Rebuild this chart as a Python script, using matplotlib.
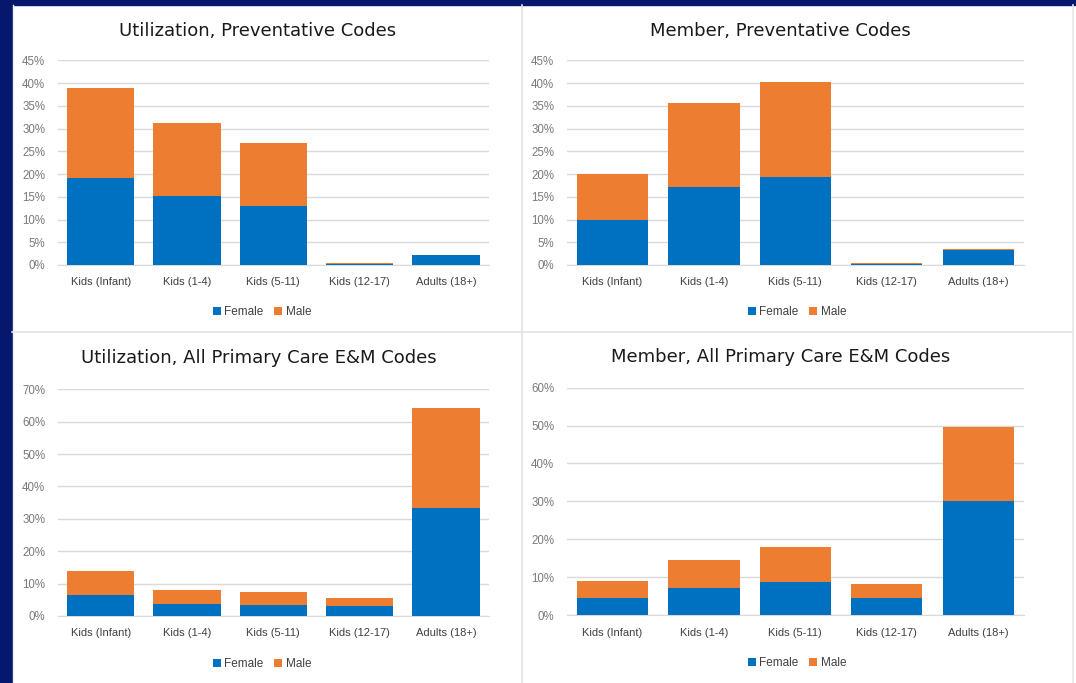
import matplotlib.pyplot as plt
from matplotlib.lines import Line2D
from matplotlib.patches import Rectangle
from matplotlib.ticker import MultipleLocator, FuncFormatter

categories = ["Kids (Infant)", "Kids (1-4)", "Kids (5-11)", "Kids (12-17)", "Adults (18+)"]

# Utilization, Preventative Codes (% values)
util_prev_female = [19.1, 15.1, 12.9, 0.3, 2.1]
util_prev_male = [19.8, 16.1, 14.0, 0.2, 0.1]

# Member, Preventative Codes
mem_prev_female = [9.9, 17.2, 19.4, 0.3, 3.3]
mem_prev_male = [10.0, 18.5, 20.9, 0.2, 0.2]

# Utilization, All Primary Care E&M Codes
util_em_female = [6.5, 3.7, 3.4, 3.1, 33.5]
util_em_male = [7.4, 4.2, 4.1, 2.4, 30.6]

# Member, All Primary Care E&M Codes
mem_em_female = [4.4, 7.1, 8.6, 4.4, 30.1]
mem_em_male = [4.5, 7.5, 9.3, 3.8, 19.6]

BLUE = "#0070C0"
ORANGE = "#ED7D31"
NAVY = "#06186e"
GRID = "#d9d9d9"

W, H = 1076, 683


def rect(x0, y0, x1, y1):
    return [x0 / W, 1 - y1 / H, (x1 - x0) / W, (y1 - y0) / H]


def draw_panel(fig, box, title, title_xy, legend_xy, female, male, ymax, step):
    ax = fig.add_axes(rect(*box))
    x = range(len(categories))
    ax.bar(x, female, width=0.78, color=BLUE, label="Female", zorder=3)
    ax.bar(x, male, width=0.78, bottom=female, color=ORANGE, label="Male", zorder=3)
    ax.set_xlim(-0.5, len(categories) - 0.5)
    ax.set_ylim(0, ymax)
    ax.yaxis.set_major_locator(MultipleLocator(step))
    ax.yaxis.set_major_formatter(FuncFormatter(lambda v, p: "{:.0f}%".format(v)))
    ax.set_xticks(list(x))
    ax.set_xticklabels(categories, fontsize=8, color="#404040", family="Liberation Sans")
    ax.tick_params(axis="y", labelsize=8.3, labelcolor="#7a7a7a", length=0, pad=9)
    ax.tick_params(axis="x", length=0, pad=9)
    for lab in ax.get_yticklabels():
        lab.set_family("Liberation Sans")
    ax.grid(axis="y", color=GRID, linewidth=1, zorder=0)
    for s in ["top", "right", "left"]:
        ax.spines[s].set_visible(False)
    ax.spines["bottom"].set_color(GRID)
    ax.set_facecolor("none")

    fig.text(title_xy[0] / W, 1 - title_xy[1] / H, title, ha="center", va="center",
             fontsize=13, color="#1a1a1a", family="DejaVu Sans")
    h, l = ax.get_legend_handles_labels()
    fig.legend(h, l, loc="center", bbox_to_anchor=(legend_xy[0] / W, 1 - legend_xy[1] / H),
               ncol=2, frameon=False, handlelength=0.7, handleheight=0.7,
               handletextpad=0.3, columnspacing=0.9,
               prop={"family": "Liberation Sans", "size": 8.5}, labelcolor="#404040")


fig = plt.figure(figsize=(W / 100, H / 100), dpi=100, facecolor="white")

# background: navy slide edge and light cell borders
bg = fig.add_axes([0, 0, 1, 1], zorder=-10)
bg.set_xlim(0, W)
bg.set_ylim(H, 0)
bg.axis("off")
bg.add_patch(Rectangle((0, 0), 11.5, H, color=NAVY))
bg.add_patch(Rectangle((0, 0), W, 5, color=NAVY))
bg.add_line(Line2D([522, 522], [5, H], color="#e2e2e2", lw=1.2))
bg.add_line(Line2D([12, 1073], [332, 332], color="#e2e2e2", lw=1.2))
bg.add_line(Line2D([1073, 1073], [5, H], color="#e8e8e8", lw=1.2))
bg.add_line(Line2D([12.5, 12.5], [5, H], color="#eeeeee", lw=1))

draw_panel(fig, (57.7, 60.3, 489, 265), "Utilization, Preventative Codes", (258, 31), (262, 312),
           util_prev_female, util_prev_male, 45, 5)
draw_panel(fig, (566.7, 60.3, 1024, 265), "Member, Preventative Codes", (780, 31), (797, 312),
           mem_prev_female, mem_prev_male, 45, 5)
draw_panel(fig, (57.7, 389.3, 489, 616), "Utilization, All Primary Care E&M Codes", (258.5, 358), (262, 664),
           util_em_female, util_em_male, 70, 10)
draw_panel(fig, (566.7, 387.7, 1024, 615), "Member, All Primary Care E&M Codes", (781, 357), (797, 663),
           mem_em_female, mem_em_male, 60, 10)

fig.savefig("out.png", dpi=100, facecolor="white")
